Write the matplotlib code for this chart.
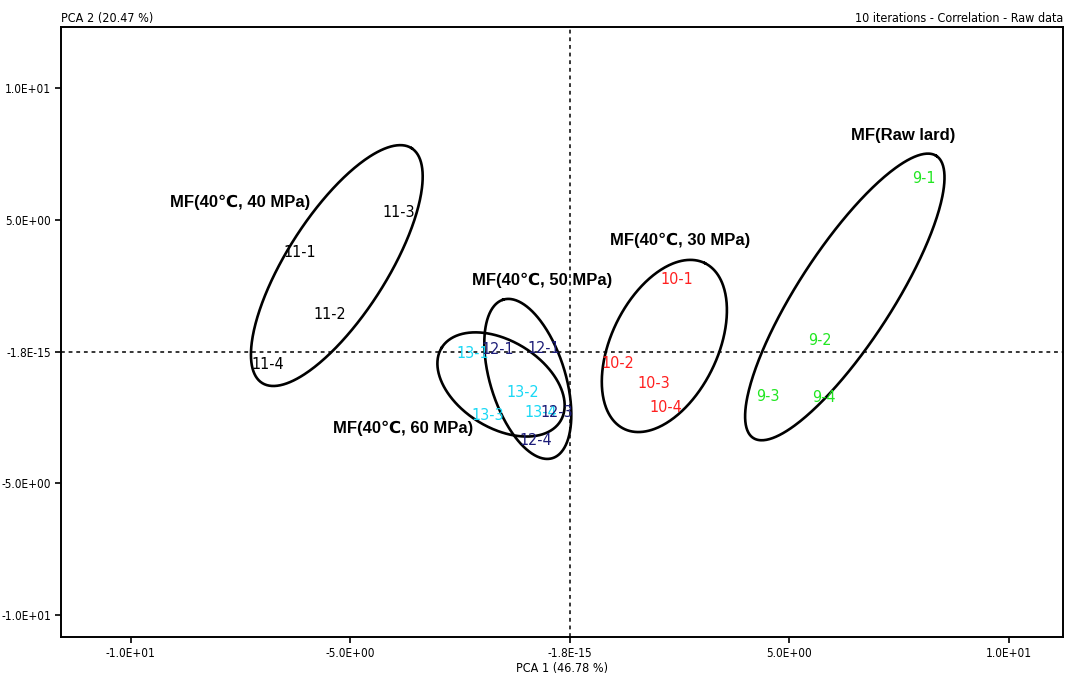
import numpy as np
import matplotlib.pyplot as plt
from matplotlib import font_manager as fm

# PCA scores of each sample (PCA 1, PCA 2)
lab9 = ['9-1', '9-2', '9-3', '9-4']
x9 = [8.06, 5.69, 4.50, 5.78]
y9 = [6.58, 0.40, -1.69, -1.73]

lab10 = ['10-1', '10-2', '10-3', '10-4']
x10 = [2.43, 1.08, 1.90, 2.18]
y10 = [2.75, -0.44, -1.23, -2.11]

lab11 = ['11-1', '11-2', '11-3', '11-4']
x11 = [-6.15, -5.46, -3.91, -6.88]
y11 = [3.74, 1.42, 5.26, -0.51]

lab13 = ['13-1', '13-2', '13-3', '13-4']
x13 = [-2.22, -1.08, -1.88, -0.67]
y13 = [-0.06, -1.57, -2.41, -2.30]

lab12 = ['12-1', '12-1', '12-3', '12-4']
x12 = [-0.60, -1.65, -0.29, -0.79]
y12 = [0.13, 0.06, -2.33, -3.36]

# group ellipses: centre, semi axes (in PCA 1 units), tilt on screen (deg)
ell_cx = [6.26, 2.15, -5.31, -0.96, -1.57]
ell_cy = [2.07, 0.21, 3.26, -1.04, -1.25]
ell_a = [3.83, 2.10, 3.17, 1.89, 1.59]
ell_b = [1.07, 1.21, 1.14, 0.855, 0.99]
ell_ang = [57.0, 64.0, 57.5, 107.3, 148.3]

grp_names = ['MF(Raw lard)', 'MF(40\u2103, 30 MPa)', 'MF(40\u2103, 40 MPa)',
             'MF(40\u2103, 50 MPa)', 'MF(40\u2103, 60 MPa)']
grp_x = [7.58, 2.50, -7.51, -0.63, -3.80]
grp_y = [8.21, 4.23, 5.67, 2.71, -2.90]

xticks = [-10, -5, 0, 5, 10]
xtick_labels = ['-1.0E+01', '-5.0E+00', '-1.8E-15', '5.0E+00', '1.0E+01']
yticks = [-10, -5, 0, 5, 10]
ytick_labels = ['-1.0E+01', '-5.0E+00', '-1.8E-15', '5.0E+00', '1.0E+01']

# look for a condensed face, like the narrow font of the original software
narrow_file = None
for f in fm.fontManager.ttflist:
    if f.name == 'Liberation Sans Narrow' and f.weight in (400, 'normal', 'regular'):
        narrow_file = f.fname
        break
if narrow_file is None:
    for f in fm.fontManager.ttflist:
        if 'DejaVuSansCondensed.ttf' in f.fname:
            narrow_file = f.fname
            break


def nfont(size):
    if narrow_file:
        return fm.FontProperties(fname=narrow_file, size=size)
    return fm.FontProperties(family='Liberation Sans', size=size * 0.85)


bold = ['Liberation Sans', 'DejaVu Sans']

fig = plt.figure(figsize=(10.66, 6.79), dpi=100)
ax = fig.add_axes([0.0569, 0.0619, 0.9403, 0.8983])
xmin, xmax = -11.6, 11.23
ymin, ymax = -10.83, 12.31
ax.set_xlim(xmin, xmax)
ax.set_ylim(ymin, ymax)

for s in ['top', 'right', 'left', 'bottom']:
    ax.spines[s].set_linewidth(1.4)

ax.axhline(0, color='k', lw=1.1, ls=(0, (2.5, 2.5)))
ax.axvline(0, color='k', lw=1.1, ls=(0, (2.5, 2.5)))

# pixels per unit ratio, so ellipses keep their screen shape
px_x = 0.9403 * 1066 / (xmax - xmin)
px_y = 0.8983 * 679 / (ymax - ymin)
k = px_y / px_x

t = np.linspace(0, 2 * np.pi, 400)
for cx, cy, a, b, ang in zip(ell_cx, ell_cy, ell_a, ell_b, ell_ang):
    th = np.radians(ang)
    u = a * np.cos(t) * np.cos(th) - b * np.sin(t) * np.sin(th)
    v = a * np.cos(t) * np.sin(th) + b * np.sin(t) * np.cos(th)
    ax.plot(cx + u, cy + v / k, color='k', lw=1.9)

groups = [(lab9, x9, y9, '#22e622'), (lab10, x10, y10, '#ff2020'),
          (lab11, x11, y11, 'black'), (lab13, x13, y13, '#19d8f5'),
          (lab12, x12, y12, '#1c1c78')]
for labs, xs, ys, c in groups:
    for lb, xx, yy in zip(labs, xs, ys):
        ax.text(xx, yy, lb, color=c, ha='center', va='center',
                fontproperties=nfont(11.5))

for name, gx, gy in zip(grp_names, grp_x, grp_y):
    ax.text(gx, gy, name, ha='center', va='center', fontsize=12,
            fontweight='bold', family=bold)

ax.set_xticks(xticks)
ax.set_xticklabels(xtick_labels, fontproperties=nfont(8.5))
ax.set_yticks(yticks)
ax.set_yticklabels(ytick_labels, fontproperties=nfont(8.5))
ax.tick_params(direction='out', length=4, width=1.2, pad=3)

ax.set_xlabel('PCA 1 (46.78 %)', fontproperties=nfont(9), labelpad=2)
ax.text(0.0, 1.004, 'PCA 2 (20.47 %)', transform=ax.transAxes, ha='left',
        va='bottom', fontproperties=nfont(9))
ax.text(1.0, 1.004, '10 iterations - Correlation - Raw data', transform=ax.transAxes,
        ha='right', va='bottom', fontproperties=nfont(9))

fig.savefig('out.png', dpi=100)
